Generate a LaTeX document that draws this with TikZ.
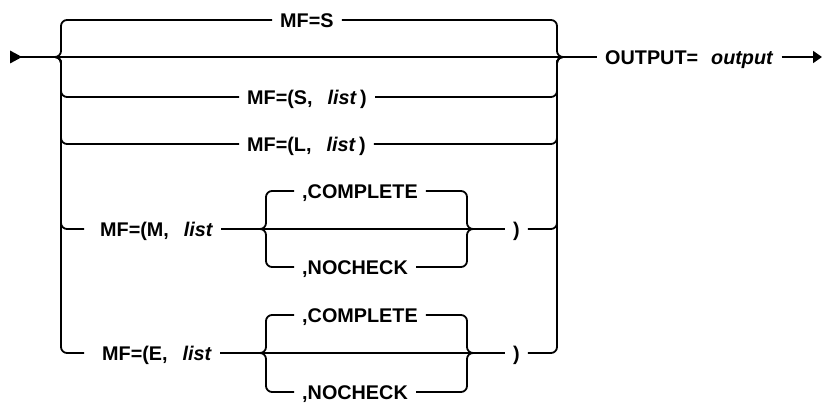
\documentclass[tikz,border=0pt]{standalone}
\usepackage{fontspec}
\setmainfont{Liberation Sans}
\usetikzlibrary{arrows.meta}
\tikzset{
  kw/.style={anchor=west, inner xsep=8pt, inner ysep=0pt, text height=14.2pt,
             text depth=0pt, font=\fontsize{19.8}{23}\selectfont\bfseries},
  rail/.style={line width=1.8pt, rounded corners=6pt},
  endarr/.style={-{Triangle[length=9pt,width=12pt]}},
}
\begin{document}
\begin{tikzpicture}[x=1pt, y=-1pt]
  \useasboundingbox (0,0) rectangle (822,403);
  % Junctions of the outer choice
  \coordinate (s)  at (10,57);
  \coordinate (jl) at (55,57);
  \coordinate (vl) at (61,57);
  \coordinate (vr) at (557,57);
  \coordinate (jr) at (563,57);
  \coordinate (e)  at (822,57);
  % Outer choice
  \node[kw] (mfs)  at (272,20)  {MF=S\hspace{10pt}};
  \node[kw] (mfsl) at (239,97)  {MF=(S,\hspace{15pt}\textit{list}\,)\hspace{4pt}};
  \node[kw] (mfll) at (239,144) {MF=(L,\hspace{15pt}\textit{list}\,)\hspace{4pt}};
  \node[kw] (mfm)  at (84,229)  {\hspace{8pt}MF=(M,\hspace{15pt}\textit{list}\hspace{7pt}};
  \node[kw] (mfe)  at (84,353)  {\hspace{10pt}MF=(E,\hspace{15pt}\textit{list}\hspace{7pt}};
  \node[kw] (out)  at (597,57)  {OUTPUT=\hspace{13pt}\textit{output}\hspace{14pt}};
  % Inner choice for M
  \coordinate (ml)  at (260,229);
  \coordinate (mlv) at (266,229);
  \coordinate (mrv) at (467,229);
  \coordinate (mr)  at (473,229);
  \node[kw] (mcp) at (294,191) {,COMPLETE\hspace{12pt}};
  \node[kw] (mnc) at (294,267) {,NOCHECK\hspace{10pt}};
  \node[kw] (mp)  at (505,229) {)\hspace{2pt}};
  % Inner choice for E
  \coordinate (el)  at (260,353);
  \coordinate (elv) at (266,353);
  \coordinate (erv) at (467,353);
  \coordinate (er)  at (473,353);
  \node[kw] (ecp) at (294,315) {,COMPLETE\hspace{12pt}};
  \node[kw] (enc) at (294,392) {,NOCHECK\hspace{10pt}};
  \node[kw] (ep)  at (505,353) {)\hspace{2pt}};
  % Start mark
  \fill (s) -- ++(0,-6.5) -- ++(12,6.5) -- ++(-12,6.5) -- cycle;
  % Main line
  \draw[rail] (s) -- (jl) -- (jr) -- (out.west);
  \draw[rail, endarr] (out.east) -- (e);
  % Left brace
  \foreach \b in {mfs, mfsl, mfll, mfm, mfe}
    \draw[rail] (jl) -- (vl) |- (\b.west);
  % Right brace
  \foreach \b in {mfs, mfsl, mfll, mp, ep}
    \draw[rail] (\b.east) -| (vr) -- (jr);
  % M group
  \draw[rail] (mfm.east) -- (ml) -- (mr) -- (mp.west);
  \draw[rail] (ml) -- (mlv) |- (mcp.west);
  \draw[rail] (ml) -- (mlv) |- (mnc.west);
  \draw[rail] (mcp.east) -| (mrv) -- (mr);
  \draw[rail] (mnc.east) -| (mrv) -- (mr);
  % E group
  \draw[rail] (mfe.east) -- (el) -- (er) -- (ep.west);
  \draw[rail] (el) -- (elv) |- (ecp.west);
  \draw[rail] (el) -- (elv) |- (enc.west);
  \draw[rail] (ecp.east) -| (erv) -- (er);
  \draw[rail] (enc.east) -| (erv) -- (er);
\end{tikzpicture}
\end{document}
